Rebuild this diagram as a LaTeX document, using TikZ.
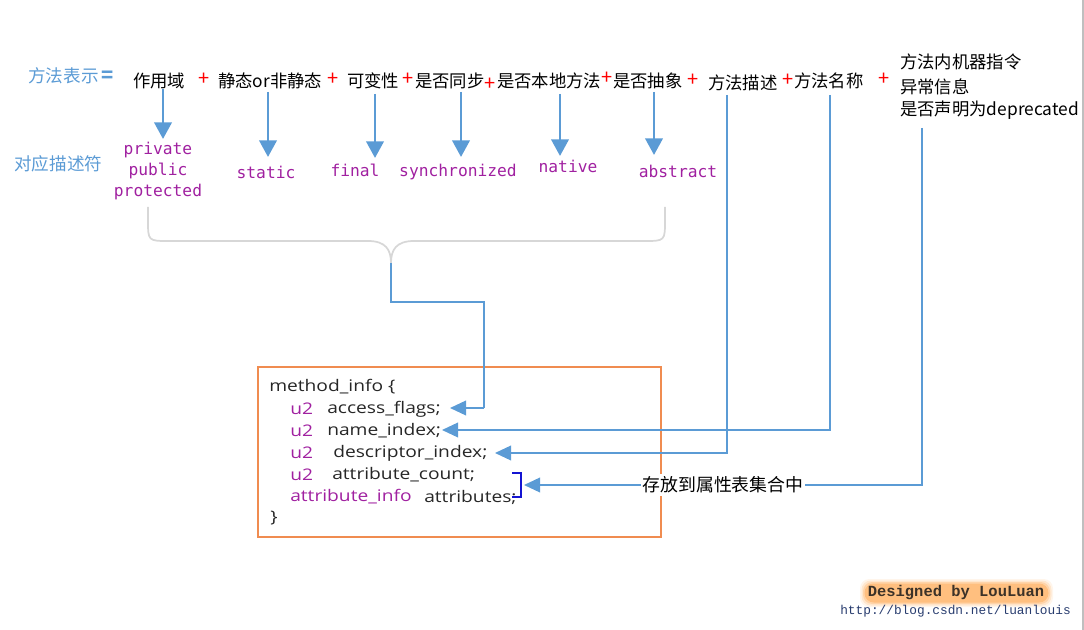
\documentclass[tikz,border=0pt]{standalone}
\usepackage{fontspec}
\setmainfont{Noto Sans CJK SC}
\newfontfamily\monof{DejaVu Sans Mono}
\newfontfamily\boxf[FakeStretch=1.2]{Open Sans}
\newfontfamily\wmf{Liberation Mono}
\usetikzlibrary{arrows.meta,calc}
\definecolor{lblue}{RGB}{91,155,213}
\definecolor{kwpurple}{RGB}{160,32,160}
\definecolor{boxorange}{RGB}{240,140,80}
\definecolor{bracegray}{RGB}{215,215,215}
\definecolor{brk}{RGB}{20,20,210}
\definecolor{urlblue}{RGB}{40,60,110}
\definecolor{wmtext}{RGB}{60,50,40}
\begin{document}
\begin{tikzpicture}[x=0.75pt,y=-0.75pt,
  toptext/.style={font=\fontsize{13}{15}\selectfont, inner sep=0pt, anchor=west, text=black},
  bluelab/.style={font=\fontsize{13.2}{15}\selectfont, inner sep=0pt, anchor=west, text=lblue},
  plussign/.style={text=red, font=\fontsize{15}{15}\selectfont, inner sep=0pt},
  kw/.style={font=\monof\fontsize{12.2}{15.75}\selectfont, text=kwpurple, inner sep=0pt, align=center},
  bigarrow/.style={draw=lblue, line width=2.2pt, -{Triangle[width=13pt,length=12.5pt]}},
  thinarrow/.style={draw=lblue, line width=1.1pt, -{Triangle[width=11pt,length=12pt]}},
  code/.style={font=\boxf\fontsize{12}{14}\selectfont, inner sep=0pt, anchor=west, text=black!85},
  codekw/.style={code, text=kwpurple},
  brace/.style={draw=bracegray, line width=1.3pt},
]
\useasboundingbox (0,0) rectangle (1084,630);
\draw[black!25, line width=0.8pt] (1083,0) -- (1083,630);

% left labels
\node[bluelab] (fs) at (28,76) {方法表示};
\node[text=lblue, font=\bfseries\fontsize{15}{15}\selectfont, inner sep=0pt] (eq) at (108,77) {=};
\node[bluelab] (dy) at (14,164) {对应描述符};

% top row
\node[toptext] (t1) at (133,81) {作用域};
\node[plussign] (p1) at (204,79) {+};
\node[toptext] (t2) at (218,81) {静态or非静态};
\node[plussign] (p2) at (333,79) {+};
\node[toptext] (t3) at (347,81) {可变性};
\node[plussign] (p3) at (408,79) {+};
\node[toptext] (t4) at (415,81) {是否同步};
\node[plussign] (p4) at (490,84) {+};
\node[toptext] (t5) at (497,81) {是否本地方法};
\node[plussign] (p5) at (607,78) {+};
\node[toptext] (t6) at (613,81) {是否抽象};
\node[plussign] (p6) at (693,80) {+};
\node[toptext] (t7) at (708,83) {方法描述};
\node[plussign] (p7) at (788,80) {+};
\node[toptext] (t8) at (794,81) {方法名称};
\node[plussign] (p8) at (884,79) {+};
\node[toptext] (r1) at (900,62) {方法内机器指令};
\node[toptext] (r2) at (900,87) {异常信息};
\node[toptext] (r3) at (900,110) {是否声明为deprecated};

% keywords
\node[kw] (k1) at (158,171) {private\\public\\protected};
\node[kw] (k2) at (266,172) {static};
\node[kw] (k3) at (355,170) {final};
\node[kw] (k4) at (458,172) {synchronized};
\node[kw] (k5) at (568,166) {native};
\node[kw] (k6) at (678,171) {abstract};

% big arrows
\coordinate (a1s) at (163,89);  \coordinate (a1e) at (163,139);
\coordinate (a2s) at (268,92);  \coordinate (a2e) at (268,157);
\coordinate (a3s) at (375,94);  \coordinate (a3e) at (375,158);
\coordinate (a4s) at (461,92);  \coordinate (a4e) at (461,157);
\coordinate (a5s) at (560,94);  \coordinate (a5e) at (560,156);
\coordinate (a6s) at (654,92);  \coordinate (a6e) at (654,155);
\draw[bigarrow] (a1s) -- (a1e);
\draw[bigarrow] (a2s) -- (a2e);
\draw[bigarrow] (a3s) -- (a3e);
\draw[bigarrow] (a4s) -- (a4e);
\draw[bigarrow] (a5s) -- (a5e);
\draw[bigarrow] (a6s) -- (a6e);

% brace
\coordinate (bc) at (391,263);
\draw[brace] (148,207) -- (148,220) .. controls (148,241) .. (169,241) -- (368,241)
  .. controls (386,241) and (391,250) .. (bc)
  .. controls (391,250) and (396,241) .. (414,241) -- (644,241)
  .. controls (665,241) .. (665,220) -- (665,207);

% box
\node[draw=boxorange, line width=1pt, minimum width=302.25pt, minimum height=127.5pt, inner sep=0pt] (box) at (459.5,452) {};
\node[code] (c0) at (269,387) {method\_info \{};
\node[codekw] (u1) at (290,409) {u2};
\node[code] (l1) at (327,409) {access\_flags;};
\node[codekw] (u2) at (290,431) {u2};
\node[code] (l2) at (327,431) {name\_index;};
\node[codekw] (u3) at (290,453) {u2};
\node[code] (l3) at (333,453) {descriptor\_index;};
\node[codekw] (u4) at (290,475) {u2};
\node[code] (l4) at (332,475) {attribute\_count;};
\node[codekw] (u5) at (290,497) {attribute\_info};
\node[code] (l5) at (424,497) {attributes;};
\node[code] (c6) at (270,518) {\}};

% small bracket
\draw[brk, line width=1pt] (512,473) -- (521,473) -- (521,497) -- (512,497);

% connectors
\coordinate (tip1) at (450,408);
\coordinate (tip2) at (442,430);
\coordinate (tip3) at (495,453);
\coordinate (tip4) at (524,485);
\coordinate (s7) at (727,95);
\coordinate (s8) at (830,95);
\coordinate (s9) at (922,128);
\draw[draw=lblue, line width=1.1pt] (bc) -- (391,302) -- (484,302) -- (484,408);
\draw[thinarrow] (484,408) -- (tip1);
\draw[thinarrow] (s8) |- (tip2);
\draw[thinarrow] (s7) |- (tip3);
\draw[thinarrow] (s9) |- (tip4);
\node[toptext, fill=white, inner xsep=1pt, inner ysep=2pt, font=\fontsize{13.4}{15}\selectfont] (st) at (641,485) {存放到属性表集合中};

% watermark
\foreach \o/\e in {0.08/6,0.12/4.5,0.18/3,0.25/1.5}{
  \fill[orange, opacity=\o, rounded corners=7pt] (866-\e,585-\e) rectangle (1047+\e,601+\e);
}
\node[font=\wmf\bfseries\fontsize{11.6}{13}\selectfont, text=wmtext, inner sep=0pt] (wm) at (956,593) {Designed by LouLuan};
\node[font=\wmf\fontsize{9.6}{11}\selectfont, text=urlblue, inner sep=0pt] (url) at (955.5,611) {http://blog.csdn.net/luanlouis};
\end{tikzpicture}
\end{document}
